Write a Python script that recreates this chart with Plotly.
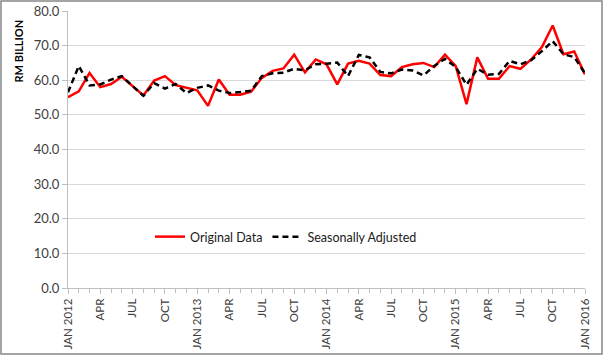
import plotly.graph_objects as go

# Monthly data, Jan 2012 .. Jan 2016
month_names = ["JAN", "FEB", "MAR", "APR", "MAY", "JUN", "JUL", "AUG", "SEP", "OCT", "NOV", "DEC"]
years = [2012, 2013, 2014, 2015, 2016]
months = [f"{m} {y}" for y in years for m in month_names][:49]

original = [55.1, 56.8, 62.1, 58.0, 58.9, 61.0, 58.3, 55.6, 59.9, 61.2,
            58.6, 57.8, 57.1, 52.6, 60.2, 55.8, 55.8, 56.7, 60.7, 62.7,
            63.4, 67.4, 62.3, 66.0, 64.6, 58.8, 64.8, 65.6, 64.8, 61.5,
            61.2, 63.8, 64.6, 65.0, 63.8, 67.4, 64.1, 53.1, 66.6, 60.4,
            60.4, 64.1, 63.3, 66.0, 69.6, 75.8, 67.5, 68.3, 61.7]

seasonal = [56.5, 64.1, 58.5, 58.8, 60.2, 61.2, 58.3, 55.5, 59.2, 57.6,
            58.9, 56.3, 57.8, 58.5, 57.0, 56.3, 56.6, 57.0, 61.2, 62.0,
            62.2, 63.3, 62.9, 64.6, 64.8, 65.1, 61.2, 67.3, 66.6, 62.4,
            62.0, 63.1, 62.8, 61.4, 64.1, 66.2, 63.8, 58.7, 63.3, 61.6,
            61.8, 65.6, 64.6, 65.8, 68.4, 71.3, 67.5, 66.7, 62.0]

y_ticks = [0, 10, 20, 30, 40, 50, 60, 70, 80]

x_idx = list(range(len(months)))
tick_vals = [i for i in x_idx if i % 3 == 0]
tick_text = [months[i] if months[i].startswith("JAN") else months[i].split(" ")[0] for i in tick_vals]

FONT = "Lato"
fig = go.Figure()
fig.add_trace(go.Scatter(x=x_idx, y=original, mode="lines", name="Original Data",
                         line=dict(color="#ff0000", width=2.5)))
fig.add_trace(go.Scatter(x=x_idx, y=seasonal, mode="lines", name="Seasonally Adjusted",
                         line=dict(color="#000000", width=2.5, dash="6px,4px")))

L, R, T, B = 68, 19, 11, 69
W, H = 604, 357
pw = W - L - R
ph = H - T - B

fig.update_layout(
    width=W, height=H,
    margin=dict(l=L, r=R, t=T, b=B, autoexpand=False),
    paper_bgcolor="white", plot_bgcolor="white",
    font=dict(family=FONT, size=11, color="#404040"),
    showlegend=True,
    legend=dict(orientation="h", x=(286 - L) / pw, xanchor="center",
                y=(288 - 237) / ph, yanchor="middle",
                font=dict(family=FONT, size=12.5, color="#202020"),
                bgcolor="rgba(255,255,255,0)", itemwidth=30),
    xaxis=dict(range=[0, 48], tickmode="array", tickvals=tick_vals, ticktext=tick_text,
               tickangle=-90, showgrid=False, zeroline=False, automargin=False,
               showline=True, linecolor="#bfbfbf", linewidth=1,
               ticks="outside", ticklen=5, tickcolor="#bfbfbf",
               minor=dict(tickmode="linear", tick0=0, dtick=1, ticks="outside",
                          ticklen=4, tickcolor="#bfbfbf", showgrid=False),
               tickfont=dict(family=FONT, size=11.5, color="#404040")),
    yaxis=dict(range=[0, 80], tickvals=y_ticks, ticktext=[f"{v:.1f}" for v in y_ticks],
               showgrid=True, gridcolor="#d9d9d9", gridwidth=1, zeroline=False, automargin=False,
               showline=True, linecolor="#bfbfbf", linewidth=1,
               ticks="outside", ticklen=5, tickcolor="#bfbfbf",
               tickfont=dict(family=FONT, size=13, color="#404040")),
    annotations=[dict(text="<b>RM BILLION</b>", textangle=-90, xref="paper", yref="paper",
                      x=(17.5 - L) / pw, y=(288 - 51) / ph, xanchor="center", yanchor="middle",
                      showarrow=False, font=dict(family=FONT, size=11, color="#000000"))],
    shapes=[dict(type="rect", xref="paper", yref="paper",
                 x0=(1 - L) / pw, x1=(602 - L) / pw,
                 y0=(288 - 354) / ph, y1=(288 - 1) / ph,
                 line=dict(color="#868686", width=1.5), fillcolor="rgba(0,0,0,0)")],
)

fig.write_html("out.html", config={"displayModeBar": False},
               post_script="document.body.style.margin='0';")
